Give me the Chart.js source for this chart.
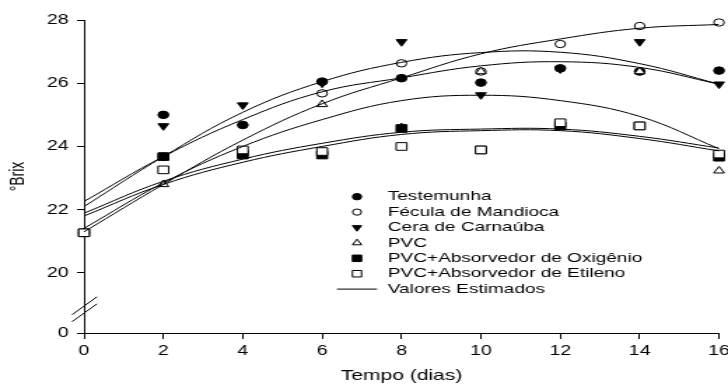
<!DOCTYPE html>
<html>
<head>
<meta charset="utf-8">
<script src="https://cdn.jsdelivr.net/npm/chart.js@4.4.0/dist/chart.umd.min.js"></script>
<style>
  html, body { margin: 0; padding: 0; background: #fff; overflow: hidden; }
  /* gráfico desenhado estreito e esticado na horizontal */
  #quadro { width: 522px; height: 385px; transform: scaleX(1.4); transform-origin: 0 0; }
  #brix { display: block; }
</style>
</head>
<body>
<div id="quadro"><canvas id="brix" width="522" height="385"></canvas></div>
<script>
// dias de armazenamento
const dias = [0, 2, 4, 6, 8, 10, 12, 14, 16];

// °Brix observado
const testemunha = [21.27, 25.00, 24.68, 26.05, 26.16, 26.02, 26.47, 26.37, 26.40];
const fecula     = [21.27, 23.68, 23.85, 25.68, 26.63, 26.37, 27.24, 27.81, 27.92];
const cera       = [21.27, 24.65, 25.31, 26.00, 27.31, 25.63, 26.45, 27.31, 25.97];
const pvc        = [21.27, 22.80, 23.80, 25.33, 24.60, 26.37, 24.70, 26.37, 23.23];
const pvcOxi     = [21.27, 23.68, 23.73, 23.73, 24.57, 23.89, 24.65, 24.65, 23.66];
const pvcEti     = [21.27, 23.26, 23.89, 23.84, 24.00, 23.89, 24.75, 24.65, 23.76];

// valores estimados pelas equações ajustadas
const estTestemunha = [22.26, 23.68, 24.85, 25.73, 26.17, 26.55, 26.68, 26.50, 25.97];
const estFecula     = [21.30, 22.80, 24.20, 25.35, 26.17, 26.93, 27.40, 27.74, 27.86];
const estCera       = [22.10, 23.68, 25.08, 26.05, 26.66, 26.97, 26.98, 26.62, 25.97];
const estPvc        = [21.41, 22.85, 24.00, 24.85, 25.45, 25.62, 25.45, 24.95, 23.93];
const estPvcOxi     = [21.89, 22.90, 23.60, 24.10, 24.45, 24.55, 24.55, 24.32, 23.95];
const estPvcEti     = [21.80, 22.80, 23.50, 24.00, 24.38, 24.50, 24.50, 24.25, 23.86];

const tratamentos = ['Testemunha', 'Fécula de Mandioca', 'Cera de Carnaúba', 'PVC',
  'PVC+Absorvedor de Oxigênio', 'PVC+Absorvedor de Etileno'];
const rotuloCurvas = 'Valores Estimados';

const xTicks = [0, 2, 4, 6, 8, 10, 12, 14, 16];
const yTicks = [0, 20, 22, 24, 26, 28];

// eixo y interrompido: o "0" fica logo abaixo do 20
const Y_ZERO_POS = 18.1;
const Y_BREAK_POS = 18.85;

const observados = [testemunha, fecula, cera, pvc, pvcOxi, pvcEti];
const estimados = [estTestemunha, estFecula, estCera, estPvc, estPvcOxi, estPvcEti];

const marcadores = [
  { style: 'circle',   rotation: 0,   radius: 3.8, fill: '#000' },
  { style: 'circle',   rotation: 0,   radius: 3.7, fill: '#fff' },
  { style: 'triangle', rotation: 180, radius: 4.4, fill: '#000' },
  { style: 'triangle', rotation: 0,   radius: 4.4, fill: '#fff' },
  { style: 'rect',     rotation: 0,   radius: 5.4, fill: '#000' },
  { style: 'rect',     rotation: 0,   radius: 5.4, fill: '#fff' }
];

const pontos = (ys) => dias.map((d, i) => ({ x: d, y: ys[i] }));

const datasets = [];
estimados.forEach((ys) => {
  datasets.push({
    data: pontos(ys),
    showLine: true,
    borderColor: '#000',
    borderWidth: 1,
    pointRadius: 0,
    tension: 0.4,
    order: 0
  });
});
observados.forEach((ys, i) => {
  const m = marcadores[i];
  datasets.push({
    label: tratamentos[i],
    data: pontos(ys),
    showLine: false,
    clip: false,
    pointStyle: m.style,
    pointRotation: m.rotation,
    pointRadius: m.radius,
    pointBackgroundColor: m.fill,
    pointBorderColor: '#000',
    pointBorderWidth: 1,
    order: 6 - i
  });
});

const FONTE = '"Liberation Sans", Arial, sans-serif';

// legenda dentro da área do gráfico + marca de interrupção do eixo y
const extras = {
  id: 'extras',
  afterDraw(chart) {
    const ctx = chart.ctx;
    const area = chart.chartArea;
    const yScale = chart.scales.y;
    ctx.save();

    // interrupção do eixo
    const yb = yScale.getPixelForValue(Y_BREAK_POS);
    const xa = area.left;
    ctx.strokeStyle = '#000';
    ctx.lineWidth = 1;
    [-3.5, 3.5].forEach((off) => {
      ctx.beginPath();
      ctx.moveTo(xa - 8.6, yb + off + 9);
      ctx.lineTo(xa + 9.3, yb + off - 9);
      ctx.stroke();
    });

    // legenda
    const mx = 255, tx = 277, y0 = 196.7, dy = 15.4;
    ctx.font = '13.6px ' + FONTE;
    ctx.textBaseline = 'middle';
    ctx.textAlign = 'left';
    marcadores.forEach((m, i) => {
      const y = y0 + i * dy;
      ctx.fillStyle = m.fill;
      ctx.strokeStyle = '#000';
      ctx.lineWidth = 1;
      Chart.helpers.drawPoint(ctx, {
        pointStyle: m.style, rotation: m.rotation, radius: m.radius * 0.85, borderWidth: 1
      }, mx, y);
      ctx.fillStyle = '#000';
      ctx.fillText(tratamentos[i], tx, y);
    });
    const yl = y0 + marcadores.length * dy;
    ctx.beginPath();
    ctx.moveTo(240.7, yl);
    ctx.lineTo(269.3, yl);
    ctx.stroke();
    ctx.fillText(rotuloCurvas, tx, yl);

    ctx.restore();
  }
};

new Chart(document.getElementById('brix'), {
  type: 'scatter',
  data: { datasets },
  options: {
    responsive: false,
    animation: false,
    devicePixelRatio: 1,
    layout: { padding: { top: 20, right: 0, bottom: 0, left: 0 } },
    plugins: { legend: { display: false }, tooltip: { enabled: false } },
    scales: {
      x: {
        type: 'linear',
        min: 0,
        max: 16,
        afterBuildTicks: (s) => { s.ticks = xTicks.map((v) => ({ value: v })); },
        afterFit: (s) => { s.height = 52; s.paddingRight = 8.4; },
        ticks: {
          color: '#000',
          font: { family: FONTE, size: 14 },
          padding: 4,
          autoSkip: false,
          maxRotation: 0
        },
        grid: { drawOnChartArea: false, drawTicks: true, tickLength: 6, color: '#000' },
        border: { display: true, color: '#000', width: 1 },
        title: {
          display: true,
          text: 'Tempo (dias)',
          color: '#000',
          font: { family: FONTE, size: 15 },
          padding: { top: 0, bottom: 0 }
        }
      },
      y: {
        type: 'linear',
        min: Y_ZERO_POS,
        max: 28,
        afterBuildTicks: (s) => {
          s.ticks = yTicks.map((v) => ({ value: v === 0 ? Y_ZERO_POS : v }));
        },
        afterFit: (s) => { s.width = 60; },
        ticks: {
          color: '#000',
          font: { family: FONTE, size: 14 },
          padding: 6,
          autoSkip: false,
          callback: (v, i) => String(yTicks[i])
        },
        grid: { drawOnChartArea: false, drawTicks: true, tickLength: 5, color: '#000' },
        border: { display: true, color: '#000', width: 1 },
        title: {
          display: true,
          text: '°Brix',
          color: '#000',
          font: { family: FONTE, size: 14 },
          padding: { top: 5, bottom: 0 }
        }
      }
    }
  },
  plugins: [extras]
});
</script>
</body>
</html>
